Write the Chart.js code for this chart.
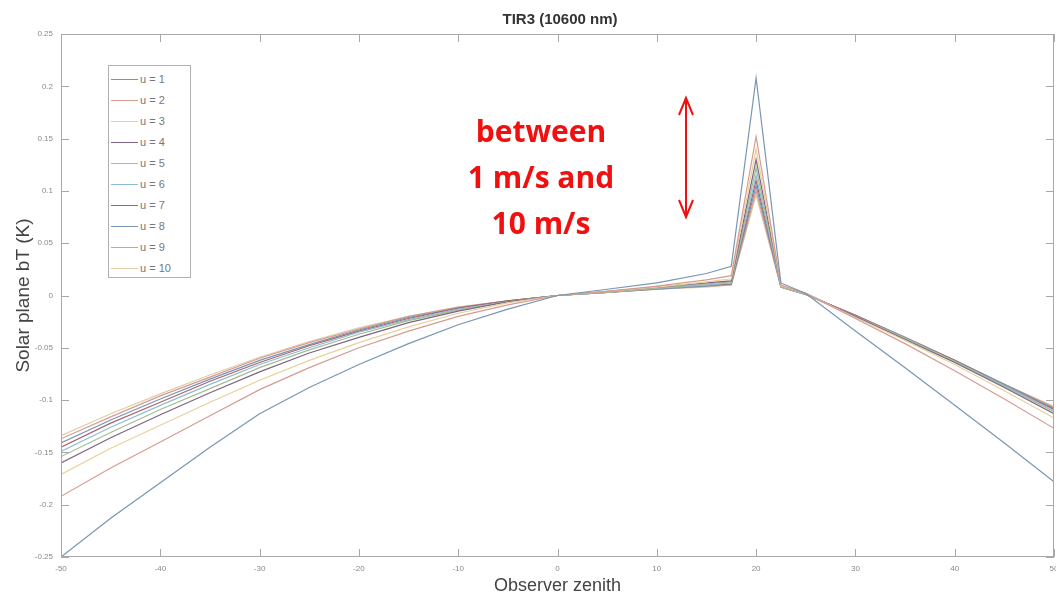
<!DOCTYPE html>
<html>
<head>
<meta charset="utf-8">
<script src="https://cdn.jsdelivr.net/npm/chart.js@4.4.0/dist/chart.umd.min.js"></script>
<style>
body{margin:0;background:#fff;}
#wrap{position:relative;width:1056px;height:597px;overflow:hidden;}
#title{position:absolute;left:410px;width:300px;top:10px;text-align:center;font:bold 15px "Liberation Sans",Arial,sans-serif;color:#333;}
#legend{position:absolute;left:108px;top:65px;width:81px;height:211px;border:1px solid #b0b0b0;background:#fff;font:11px "Liberation Sans",Arial,sans-serif;color:#777;}
#legend .row{position:absolute;left:0;height:14px;}
#legend .sw{position:absolute;left:2px;top:7px;width:27px;height:0;border-top:1px solid #888;}
#legend .tx{position:absolute;left:31px;top:0;white-space:nowrap;line-height:14px;}
#note{position:absolute;left:441px;width:200px;top:108px;text-align:center;font:bold 30px "Open Sans",sans-serif;line-height:46px;color:#f01010;}
#arrow{position:absolute;left:670px;top:90px;}
</style>
</head>
<body>
<div id="wrap">
<canvas id="myChart" width="1056" height="597"></canvas>
<div id="title">TIR3 (10600 nm)</div>
<div id="legend"></div>
<div id="note">between<br>1 m/s and<br>10 m/s</div>
<svg id="arrow" width="32" height="140">
  <line x1="16" y1="8" x2="16" y2="127" stroke="#f01010" stroke-width="2"/>
  <polyline points="9,25 16,8 23,25" fill="none" stroke="#f01010" stroke-width="2"/>
  <polyline points="9,110 16,127 23,110" fill="none" stroke="#f01010" stroke-width="2"/>
</svg>
</div>
<script>
//観測天頂角
const xValues = [-50,-45,-40,-35,-30,-25,-20,-15,-10,-5,0,5,10,15,17.5,20,22.5,25,30,35,40,45,50];

//風速ごとの値
const u1  = [-0.250,-0.213,-0.179,-0.145,-0.113,-0.088,-0.066,-0.046,-0.028,-0.013,0,0.006,0.012,0.021,0.028,0.208,0.012,0.002,-0.034,-0.069,-0.105,-0.141,-0.178];
const u2  = [-0.192,-0.165,-0.140,-0.115,-0.090,-0.069,-0.050,-0.034,-0.020,-0.009,0,0.004,0.009,0.015,0.019,0.152,0.010,0.002,-0.022,-0.046,-0.072,-0.099,-0.127];
const u3  = [-0.171,-0.146,-0.124,-0.102,-0.081,-0.062,-0.045,-0.030,-0.017,-0.007,0,0.004,0.008,0.013,0.016,0.140,0.009,0.002,-0.021,-0.043,-0.066,-0.091,-0.117];
const u4  = [-0.160,-0.136,-0.114,-0.093,-0.073,-0.055,-0.040,-0.026,-0.015,-0.006,0,0.004,0.008,0.012,0.014,0.130,0.009,0.002,-0.020,-0.042,-0.064,-0.088,-0.113];
const u5  = [-0.154,-0.131,-0.109,-0.089,-0.069,-0.052,-0.037,-0.024,-0.014,-0.006,0,0.003,0.007,0.011,0.013,0.122,0.008,0.001,-0.020,-0.041,-0.063,-0.087,-0.111];
const u6  = [-0.149,-0.126,-0.105,-0.085,-0.066,-0.050,-0.035,-0.023,-0.013,-0.006,0,0.003,0.007,0.010,0.012,0.115,0.008,0.001,-0.020,-0.041,-0.063,-0.086,-0.110];
const u7  = [-0.145,-0.122,-0.102,-0.082,-0.064,-0.048,-0.034,-0.022,-0.012,-0.005,0,0.003,0.007,0.010,0.011,0.110,0.008,0.001,-0.019,-0.041,-0.062,-0.086,-0.109];
const u8  = [-0.141,-0.119,-0.099,-0.080,-0.062,-0.047,-0.033,-0.021,-0.012,-0.005,0,0.003,0.006,0.009,0.011,0.105,0.008,0.001,-0.019,-0.040,-0.062,-0.085,-0.108];
const u9  = [-0.137,-0.116,-0.096,-0.078,-0.060,-0.045,-0.032,-0.020,-0.011,-0.005,0,0.003,0.006,0.009,0.010,0.100,0.008,0.001,-0.019,-0.040,-0.062,-0.085,-0.107];
const u10 = [-0.134,-0.113,-0.094,-0.076,-0.059,-0.044,-0.031,-0.020,-0.011,-0.005,0,0.003,0.006,0.008,0.010,0.096,0.008,0.001,-0.019,-0.040,-0.062,-0.085,-0.106];

const seriesLabels = ["u = 1","u = 2","u = 3","u = 4","u = 5","u = 6","u = 7","u = 8","u = 9","u = 10"];
const seriesColors = [
  "rgb(120,150,180)","rgb(215,155,145)","rgb(232,210,155)","rgb(125,100,135)","rgb(165,188,145)",
  "rgb(140,190,212)","rgb(170,100,110)","rgb(120,150,180)","rgb(215,155,145)","rgb(225,205,165)"
];
const allSeries = [u1,u2,u3,u4,u5,u6,u7,u8,u9,u10];

//目盛り
const xTicks = [-50,-40,-30,-20,-10,0,10,20,30,40,50];
const yTicks = [-0.25,-0.2,-0.15,-0.1,-0.05,0,0.05,0.1,0.15,0.2,0.25];

const datasets = allSeries.map((s, i) => ({
  label: seriesLabels[i],
  data: s.map((v, j) => ({x: xValues[j], y: v})),
  borderColor: seriesColors[i],
  backgroundColor: seriesColors[i],
  borderWidth: 1.2,
  pointRadius: 0,
  showLine: true,
  tension: 0
}));

//枠と内向きの目盛り
const boxPlugin = {
  id: "box",
  afterDatasetsDraw(chart) {
    const {ctx, chartArea: a, scales} = chart;
    ctx.save();
    ctx.strokeStyle = "#a8a8a8";
    ctx.lineWidth = 1;
    ctx.strokeRect(a.left + 0.5, a.top + 0.5, a.right - a.left - 1, a.bottom - a.top - 1);
    ctx.beginPath();
    xTicks.forEach(t => {
      const px = Math.round(scales.x.getPixelForValue(t)) + 0.5;
      ctx.moveTo(px, a.bottom); ctx.lineTo(px, a.bottom - 8);
      ctx.moveTo(px, a.top); ctx.lineTo(px, a.top + 8);
    });
    yTicks.forEach(t => {
      const py = Math.round(scales.y.getPixelForValue(t)) + 0.5;
      ctx.moveTo(a.left, py); ctx.lineTo(a.left + 8, py);
      ctx.moveTo(a.right, py); ctx.lineTo(a.right - 8, py);
    });
    ctx.stroke();
    ctx.restore();
  }
};

const ctx = document.getElementById("myChart").getContext("2d");
const myChart = new Chart(ctx, {
  type: "scatter",
  data: {datasets: datasets},
  options: {
    responsive: false,
    animation: false,
    devicePixelRatio: 1,
    layout: {padding: {top: 34, right: 2, left: 0, bottom: 0}},
    plugins: {legend: {display: false}, tooltip: {enabled: false}},
    scales: {
      x: {
        type: "linear", min: -50, max: 50,
        afterFit(scale) { scale.height = 40; scale.paddingLeft = 0; scale.paddingRight = 0; },
        afterBuildTicks(scale) { scale.ticks = xTicks.map(v => ({value: v})); },
        grid: {display: false, drawTicks: false},
        border: {display: false},
        ticks: {padding: 7, color: "#8a8a8a", font: {family: "Liberation Sans", size: 8}},
        title: {display: true, text: "Observer zenith", color: "#444", padding: {top: 1, bottom: 0}, font: {family: "Liberation Sans", size: 18}}
      },
      y: {
        type: "linear", min: -0.25, max: 0.25,
        afterFit(scale) { scale.width = 61; scale.paddingTop = 0; scale.paddingBottom = 0; },
        afterBuildTicks(scale) { scale.ticks = yTicks.map(v => ({value: v})); },
        grid: {display: false, drawTicks: false},
        border: {display: false},
        ticks: {padding: 8, color: "#8a8a8a", font: {family: "Liberation Sans", size: 8},
          callback: (v) => String(Math.round(v * 100) / 100)},
        title: {display: true, text: "Solar plane bT (K)", color: "#444", padding: {top: 12, bottom: 0}, font: {family: "Liberation Sans", size: 19}}
      }
    }
  },
  plugins: [boxPlugin]
});

//凡例
const legend = document.getElementById("legend");
seriesLabels.forEach((lab, i) => {
  const row = document.createElement("div");
  row.className = "row";
  row.style.top = (6 + i * 21) + "px";
  row.innerHTML = '<div class="sw" style="border-top-color:' + seriesColors[i] + '"></div><div class="tx">' + lab + '</div>';
  legend.appendChild(row);
});
</script>
</body>
</html>
